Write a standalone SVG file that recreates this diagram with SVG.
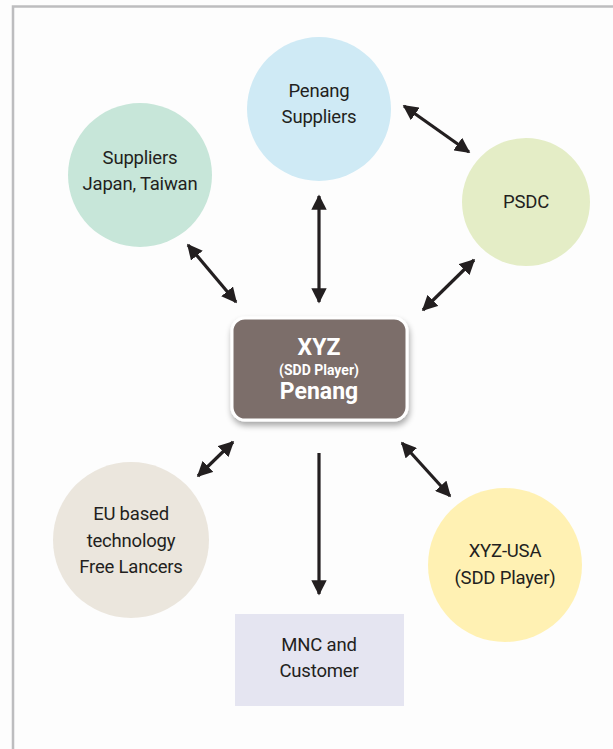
<svg xmlns="http://www.w3.org/2000/svg" width="613" height="749" viewBox="0 0 613 749">
  <defs>
    <marker id="ah" viewBox="0 0 10 10" refX="9" refY="5" markerWidth="4.8" markerHeight="4.8" orient="auto-start-reverse" markerUnits="strokeWidth">
      <path d="M0,0 L10,5 L0,10 Z" fill="#231f20"/>
    </marker>
    <filter id="shadow" x="-20%" y="-20%" width="140%" height="150%">
      <feGaussianBlur in="SourceAlpha" stdDeviation="3"/>
      <feOffset dx="1" dy="4" result="b"/>
      <feComponentTransfer><feFuncA type="linear" slope="0.35"/></feComponentTransfer>
      <feMerge><feMergeNode/><feMergeNode in="SourceGraphic"/></feMerge>
    </filter>
    <style>
      .lbl { font-family: Roboto, "Liberation Sans", sans-serif; font-size: 18.5px; fill: #231f20; text-anchor: middle; letter-spacing: -0.2px; }
      .hub { font-family: Roboto, "Liberation Sans", sans-serif; font-weight: bold; fill: #ffffff; text-anchor: middle; }
      .conn { stroke: #231f20; stroke-width: 3.2; fill: none; marker-start: url(#ah); marker-end: url(#ah); }
      .one { marker-start: none; }
    </style>
  </defs>

  <rect width="613" height="749" fill="#fdfdfd"/>
  <!-- frame -->
  <path d="M13,749 V6.5 H613" fill="none" stroke="#bdbdbf" stroke-width="2.5"/>

  <g id="connectors">
    <line class="conn" x1="188" y1="245" x2="236" y2="302"/>
    <line class="conn" x1="319" y1="196" x2="319" y2="302"/>
    <line class="conn" x1="404" y1="106" x2="469" y2="152"/>
    <line class="conn" x1="423" y1="310" x2="474" y2="260"/>
    <line class="conn" x1="198" y1="476" x2="233" y2="442"/>
    <line class="conn" x1="402" y1="443" x2="450" y2="496"/>
    <line class="conn one" x1="319" y1="453" x2="319" y2="594"/>
  </g>

  <g id="penang-suppliers">
    <circle cx="319" cy="109" r="72" fill="#cfeaf5"/>
    <text class="lbl" x="319" y="97">Penang</text>
    <text class="lbl" x="319" y="123">Suppliers</text>
  </g>

  <g id="suppliers-japan-taiwan">
    <circle cx="140" cy="175" r="72" fill="#c7e6d9"/>
    <text class="lbl" x="140" y="164">Suppliers</text>
    <text class="lbl" x="140" y="190">Japan, Taiwan</text>
  </g>

  <g id="psdc">
    <circle cx="526" cy="202" r="64" fill="#e4edc6"/>
    <text class="lbl" x="526" y="208">PSDC</text>
  </g>

  <g id="xyz-penang">
    <rect x="232" y="318" width="175" height="102" rx="13" fill="#7b6e6b" stroke="#ffffff" stroke-width="3" filter="url(#shadow)"/>
    <text class="hub" x="319" y="355" font-size="23">XYZ</text>
    <text class="hub" x="319" y="375" font-size="14">(SDD Player)</text>
    <text class="hub" x="319" y="399" font-size="23">Penang</text>
  </g>

  <g id="eu-freelancers">
    <circle cx="131" cy="540" r="78" fill="#ebe6dd"/>
    <text class="lbl" x="131" y="520">EU based</text>
    <text class="lbl" x="131" y="547">technology</text>
    <text class="lbl" x="131" y="573">Free Lancers</text>
  </g>

  <g id="xyz-usa">
    <circle cx="505" cy="565" r="77" fill="#fff1b3"/>
    <text class="lbl" x="505" y="557">XYZ-USA</text>
    <text class="lbl" x="505" y="584">(SDD Player)</text>
  </g>

  <g id="mnc-customer">
    <rect x="235" y="614" width="169" height="92" fill="#e5e5f1"/>
    <text class="lbl" x="319" y="651">MNC and</text>
    <text class="lbl" x="319" y="677">Customer</text>
  </g>
</svg>
